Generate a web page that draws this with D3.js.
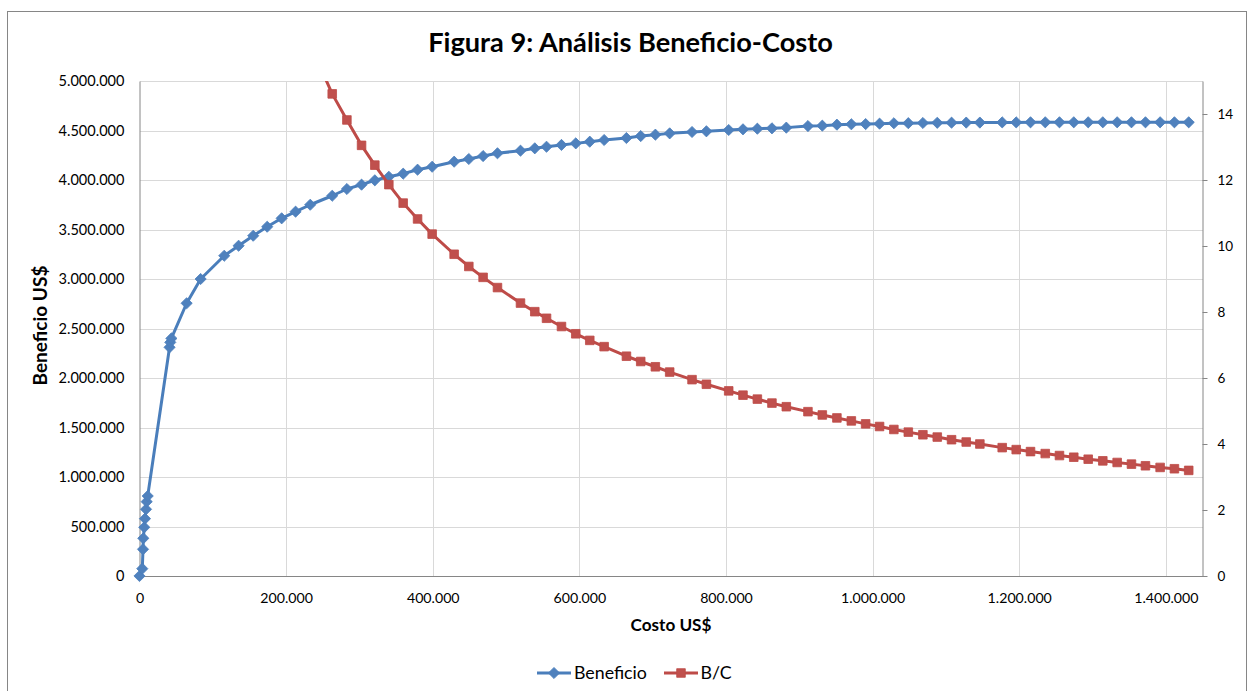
<!DOCTYPE html>
<html>
<head>
<meta charset="utf-8">
<script src="https://cdn.jsdelivr.net/npm/d3@7"></script>
<style>
  html, body { margin: 0; padding: 0; background: #fff; }
  svg { display: block; }
  text { font-family: Lato, "Open Sans", "Noto Sans", sans-serif; fill: #000; }
</style>
</head>
<body>
<svg id="chart" width="1253" height="691"></svg>
<script>
// Cost (US$) of each alternative
const costo = [
  0, 3800, 4800, 5200, 6500, 7500, 8900, 9800, 11200,
  41000, 42000, 43500, 64300, 83400, 115600, 135200, 155100, 174200, 193900,
  212900, 232900, 262900, 282900, 302900, 321000, 340100, 359700, 379300,
  399200, 429200, 449200, 468700, 488300, 519700, 539200, 555200, 575600,
  595100, 614200, 633800, 664200, 683700, 703700, 723200, 753700, 773300,
  803700, 823200, 842800, 862700, 882300, 911800, 931400, 951300, 971000,
  990500, 1009500, 1029000, 1048700, 1068600, 1088200, 1107700, 1127700,
  1146300, 1176800, 1195900, 1215400, 1235500, 1254900, 1274400, 1294100,
  1314000, 1333600, 1353100, 1372200, 1392200, 1411700, 1431200
];

// Benefit (US$) for each cost
const beneficio = [
  0, 74000, 270000, 381000, 492000, 579000, 674000, 751000, 808000,
  2310000, 2360000, 2400000, 2755000, 3000000, 3235000, 3336000, 3437000, 3528000, 3613000,
  3680000, 3750000, 3841000, 3909000, 3953000, 3997000, 4033000, 4064000, 4104000,
  4134000, 4185000, 4212000, 4242000, 4270000, 4296000, 4320000, 4336000, 4354000,
  4370000, 4387000, 4404000, 4424000, 4444000, 4458000, 4471000, 4485000, 4492000,
  4505000, 4512000, 4518000, 4522000, 4529000, 4545000, 4549000, 4559000, 4563000,
  4565000, 4569000, 4573000, 4574000, 4576000, 4578000, 4579000, 4580000,
  4580000, 4582000, 4582000, 4583000, 4583000, 4583000, 4583000, 4583000,
  4583000, 4583000, 4583000, 4583000, 4583000, 4583000, 4583000
];

// Benefit / cost ratio (undefined at zero cost)
const relacionBC = [
  null, 19.47, 56.25, 73.27, 75.69, 77.20, 75.73, 76.63, 72.14,
  56.34, 56.19, 55.17, 42.85, 35.97, 27.98, 24.67, 22.16, 20.25, 18.63,
  17.29, 16.10, 14.61, 13.82, 13.05, 12.45, 11.86, 11.30, 10.82,
  10.36, 9.75, 9.38, 9.05, 8.74, 8.27, 8.01, 7.81, 7.56,
  7.34, 7.14, 6.95, 6.66, 6.50, 6.34, 6.18, 5.95, 5.81,
  5.61, 5.48, 5.36, 5.24, 5.13, 4.98, 4.88, 4.79, 4.70,
  4.61, 4.53, 4.44, 4.36, 4.28, 4.21, 4.13, 4.06,
  4.00, 3.89, 3.83, 3.77, 3.71, 3.65, 3.60, 3.54,
  3.49, 3.44, 3.39, 3.34, 3.29, 3.25, 3.20
];

const xTicks = [0, 200000, 400000, 600000, 800000, 1000000, 1200000, 1400000];
const yLeftTicks = [0, 500000, 1000000, 1500000, 2000000, 2500000, 3000000, 3500000, 4000000, 4500000, 5000000];
const yRightTicks = [0, 2, 4, 6, 8, 10, 12, 14];

const seriesNames = ["Beneficio", "B/C"];
const titleText = "Figura 9: Análisis Beneficio-Costo";
const xTitle = "Costo US$";
const yTitle = "Beneficio US$";

const blueLine = "#4A7EBB", blueFill = "#4F81BD";
const redLine = "#BE4B48", redFill = "#C0504D";
const gridColor = "#D9D9D9", axisColor = "#868686";

const svg = d3.select("#chart");

// Spanish number format: "." as thousands separator
const locale = d3.formatLocale({ decimal: ",", thousands: ".", grouping: [3], currency: ["", ""] });
const fmt = locale.format(",d");

// font size needed for a string to span a given width
function fitSize(str, weight, targetW) {
  const t = svg.append("text").attr("font-size", 100).attr("font-weight", weight).text(str);
  const w = t.node().getComputedTextLength();
  t.remove();
  return 100 * targetW / w;
}

const plot = { left: 139.5, right: 1202.5, top: 81, bottom: 576 };

const x = d3.scaleLinear().domain([0, 1450000]).range([plot.left, plot.right]);
const yL = d3.scaleLinear().domain([0, 5000000]).range([plot.bottom, plot.top]);
const yR = d3.scaleLinear().domain([0, 15]).range([plot.bottom, plot.top]);

// outer chart border
svg.append("rect")
  .attr("x", 7.5).attr("y", 11.5).attr("width", 1239).attr("height", 700)
  .attr("fill", "#fff").attr("stroke", axisColor).attr("stroke-width", 1);

// title
svg.append("text")
  .attr("x", 630.5).attr("y", 52).attr("text-anchor", "middle")
  .attr("font-weight", "bold").attr("font-size", fitSize(titleText, "bold", 405))
  .text(titleText);

// gridlines
const grid = svg.append("g").attr("shape-rendering", "crispEdges");
grid.selectAll("line.h").data(yLeftTicks.filter(d => d > 0)).join("line")
  .attr("x1", plot.left).attr("x2", plot.right)
  .attr("y1", d => Math.round(yL(d)) + 0.5).attr("y2", d => Math.round(yL(d)) + 0.5)
  .attr("stroke", gridColor).attr("stroke-width", 1.3);
grid.selectAll("line.v").data(xTicks.filter(d => d > 0)).join("line")
  .attr("x1", d => Math.round(x(d)) + 0.5).attr("x2", d => Math.round(x(d)) + 0.5)
  .attr("y1", plot.top).attr("y2", plot.bottom)
  .attr("stroke", gridColor).attr("stroke-width", 1.3);

// axes
const leftSize = fitSize("5.000.000", "normal", 66);
const bottomSize = fitSize("200.000", "normal", 52.7);
const rightSize = fitSize("14", "normal", 15.7);

const axL = svg.append("g").attr("transform", `translate(${plot.left},0)`)
  .call(d3.axisLeft(yL).tickValues(yLeftTicks).tickFormat(fmt).tickSize(0).tickPadding(15));
axL.select(".domain").attr("stroke", axisColor);
axL.selectAll("text").attr("font-size", leftSize).attr("font-family", null);

const axB = svg.append("g").attr("transform", `translate(0,${plot.bottom})`)
  .call(d3.axisBottom(x).tickValues(xTicks).tickFormat(fmt).tickSize(0).tickPadding(17));
axB.select(".domain").attr("stroke", axisColor);
axB.selectAll("text").attr("font-size", bottomSize).attr("font-family", null);

const axR = svg.append("g").attr("transform", `translate(${plot.right},0)`)
  .call(d3.axisRight(yR).tickValues(yRightTicks).tickSizeInner(5).tickSizeOuter(0).tickPadding(10));
axR.select(".domain").attr("stroke", axisColor);
axR.selectAll("line").attr("stroke", axisColor);
axR.selectAll("text").attr("font-size", rightSize).attr("font-family", null);

// axis titles
svg.append("text")
  .attr("x", (plot.left + plot.right) / 2).attr("y", 631).attr("text-anchor", "middle")
  .attr("font-weight", "bold").attr("font-size", fitSize(xTitle, "bold", 81))
  .text(xTitle);
svg.append("text")
  .attr("transform", `translate(47,${(plot.top + plot.bottom) / 2 - 3}) rotate(-90)`)
  .attr("text-anchor", "middle")
  .attr("font-weight", "bold").attr("font-size", fitSize(yTitle, "bold", 120))
  .text(yTitle);

// marker shapes
const diamond = "M0,-5.6L5.6,0L0,5.6L-5.6,0Z";
const square = "M-4.3,-4.3H4.3V4.3H-4.3Z";

// series data
const dataB = costo.map((c, i) => ({ x: c, y: beneficio[i] }));
const dataR = costo.map((c, i) => ({ x: c, y: relacionBC[i] })).filter(d => d.y != null);

// Beneficio series (left axis)
const lineB = d3.line().x(d => x(d.x)).y(d => yL(d.y));
svg.append("path").datum(dataB)
  .attr("d", lineB).attr("fill", "none")
  .attr("stroke", blueLine).attr("stroke-width", 3).attr("stroke-linejoin", "round");
svg.append("g").selectAll("path").data(dataB).join("path")
  .attr("d", diamond)
  .attr("transform", d => `translate(${x(d.x)},${yL(d.y)})`)
  .attr("fill", blueFill).attr("stroke", blueLine).attr("stroke-width", 0.8);

// B/C series (right axis), clipped to the plot area
svg.append("clipPath").attr("id", "plotClip")
  .append("rect")
  .attr("x", plot.left).attr("y", plot.top)
  .attr("width", plot.right - plot.left).attr("height", plot.bottom - plot.top);
const gR = svg.append("g").attr("clip-path", "url(#plotClip)");
const lineR = d3.line().x(d => x(d.x)).y(d => yR(d.y));
gR.append("path").datum(dataR)
  .attr("d", lineR).attr("fill", "none")
  .attr("stroke", redLine).attr("stroke-width", 3).attr("stroke-linejoin", "round");
gR.selectAll("path.m").data(dataR).join("path")
  .attr("class", "m")
  .attr("d", square)
  .attr("transform", d => `translate(${x(d.x)},${yR(d.y)})`)
  .attr("fill", redFill).attr("stroke", redLine).attr("stroke-width", 0.8);

// legend
const legendSize = fitSize(seriesNames[0], "normal", 73);
const legend = svg.append("g");
const legendItems = [
  { name: seriesNames[0], x1: 537, x2: 571, color: blueLine, fill: blueFill, shape: diamond, tx: 574 },
  { name: seriesNames[1], x1: 664, x2: 698, color: redLine, fill: redFill, shape: square, tx: 700.5 }
];
const ly = 673;
legendItems.forEach(it => {
  legend.append("line")
    .attr("x1", it.x1).attr("x2", it.x2).attr("y1", ly).attr("y2", ly)
    .attr("stroke", it.color).attr("stroke-width", 3);
  legend.append("path").attr("d", it.shape)
    .attr("transform", `translate(${(it.x1 + it.x2) / 2},${ly})`)
    .attr("fill", it.fill).attr("stroke", it.color).attr("stroke-width", 0.8);
  legend.append("text")
    .attr("x", it.tx).attr("y", ly + 6)
    .attr("font-size", legendSize)
    .text(it.name);
});
</script>
</body>
</html>
